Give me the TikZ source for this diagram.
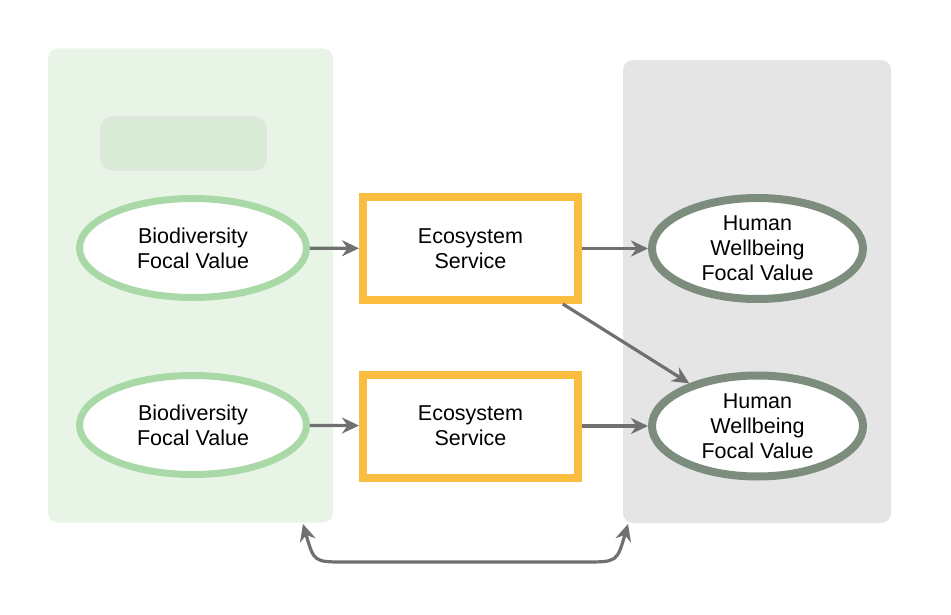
\documentclass[tikz,border=0pt]{standalone}
\usepackage{fontspec}
\setmainfont{Liberation Sans}
\usetikzlibrary{arrows.meta,shapes.geometric}
\definecolor{panelGreen}{HTML}{E8F5E6}
\definecolor{tabGreen}{HTML}{DAECD8}
\definecolor{tabLine}{HTML}{E2E4E2}
\definecolor{panelGrey}{HTML}{E5E5E5}
\definecolor{bioLine}{HTML}{A9D9A7}
\definecolor{serviceLine}{HTML}{FBBD3F}
\definecolor{humanLine}{HTML}{7D8D7D}
\definecolor{linkGrey}{HTML}{707070}
\tikzstyle{panel}=[shape = rectangle, rounded corners = 10pt, inner sep = 0pt]
\tikzstyle{bioValue}=[shape = ellipse, draw = bioLine, line width = 7pt, fill = white, minimum width = 227pt, minimum height = 99pt, inner sep = 0pt, align = center, font = \fontsize{21.5}{25}\selectfont]
\tikzstyle{humanValue}=[shape = ellipse, draw = humanLine, line width = 8pt, fill = white, minimum width = 211pt, minimum height = 101pt, inner sep = 0pt, align = center, font = \fontsize{21.5}{25}\selectfont]
\tikzstyle{service}=[shape = rectangle, draw = serviceLine, line width = 8pt, fill = white, minimum width = 215pt, minimum height = 103pt, inner sep = 0pt, align = center, font = \fontsize{21.5}{25}\selectfont]

\begin{document}
\begin{tikzpicture}[x = 1pt, y = -1pt]
\tikzstyle{link}=[draw = linkGrey, line width = 3.2pt, -{Stealth[length = 17pt, width = 16pt]}]
\tikzstyle{twoWay}=[draw = linkGrey, line width = 3.2pt, {Stealth[length = 17pt, width = 16pt]}-{Stealth[length = 17pt, width = 16pt]}]
\useasboundingbox (0,0) rectangle (951,615);
% panels
\node[panel, fill = panelGreen, minimum width = 285pt, minimum height = 474pt] (bioPanel) at (190.5,285.5) {};
\node[panel, fill = panelGrey, minimum width = 268pt, minimum height = 463pt] (humanPanel) at (757,291.5) {};
\node[panel, draw = tabLine, line width = 1.5pt, fill = tabGreen, rounded corners = 12pt, minimum width = 165pt, minimum height = 53pt] (bioTab) at (183.5,143.5) {};
% values and services
\node[bioValue] (bio1) at (193,248) {Biodiversity\\Focal Value};
\node[bioValue] (bio2) at (193,425) {Biodiversity\\Focal Value};
\node[service] (es1) at (470.5,248.5) {Ecosystem\\Service};
\node[service] (es2) at (470.5,426) {Ecosystem\\Service};
\node[humanValue] (hw1) at (757.5,248.5) {Human\\Wellbeing\\Focal Value};
\node[humanValue] (hw2) at (757.5,426) {Human\\Wellbeing\\Focal Value};
\coordinate (bioEnd) at (303,524);
\coordinate (humanEnd) at (628,524);
% links
\draw[link] (bio1) -- (es1);
\draw[link] (bio2) -- (es2);
\draw[link] (es1) -- (hw1);
\draw[link] (es2) -- (hw2);
\draw[link] (es1.-31) -- (hw2.148);
\draw[twoWay] (bioEnd) .. controls (314,562) .. (345,562) -- (585,562) .. controls (617,562) .. (humanEnd);
\end{tikzpicture}
\end{document}
